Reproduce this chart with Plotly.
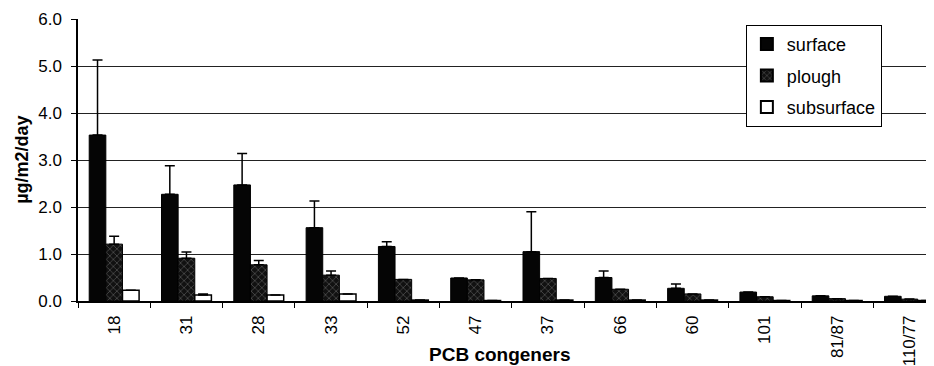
import plotly.graph_objects as go

categories = ["18", "31", "28", "33", "52", "47", "37", "66", "60", "101", "81/87", "110/77"]
surface = [3.53, 2.27, 2.47, 1.56, 1.16, 0.49, 1.05, 0.50, 0.27, 0.19, 0.11, 0.10]
surface_err = [1.60, 0.61, 0.67, 0.57, 0.10, 0.0, 0.85, 0.14, 0.09, 0.0, 0.0, 0.0]
plough = [1.21, 0.91, 0.77, 0.55, 0.46, 0.45, 0.48, 0.25, 0.15, 0.09, 0.05, 0.04]
plough_err = [0.17, 0.13, 0.09, 0.09, 0.0, 0.0, 0.0, 0.0, 0.0, 0.0, 0.0, 0.0]
subsurface = [0.23, 0.13, 0.13, 0.15, 0.02, 0.01, 0.02, 0.02, 0.02, 0.01, 0.01, 0.01]
subsurface_err = [0.0, 0.02, 0.0, 0.0, 0.0, 0.0, 0.0, 0.0, 0.0, 0.0, 0.0, 0.0]
y_ticks = [0, 1, 2, 3, 4, 5, 6]
y_ticklabels = ["0.0", "1.0", "2.0", "3.0", "4.0", "5.0", "6.0"]

FONT = "Liberation Sans, Arial, sans-serif"


def err(vals):
    return dict(type="data", symmetric=False, array=vals, arrayminus=[0] * len(vals),
                color="black", thickness=1.5, width=5)


fig = go.Figure()
fig.add_trace(go.Bar(
    name="surface", x=categories, y=surface, error_y=err(surface_err), legendgroup="a",
    marker=dict(color="#050505", line=dict(color="black", width=1)),
))
fig.add_trace(go.Bar(
    name="plough", x=categories, y=plough, error_y=err(plough_err), legendgroup="b",
    marker=dict(color="#111111", line=dict(color="black", width=1),
                pattern=dict(shape="x", fgcolor="#9a9a9a", bgcolor="#111111",
                             size=5, solidity=0.25)),
))
fig.add_trace(go.Bar(
    name="subsurface", x=categories, y=subsurface, error_y=err(subsurface_err), legendgroup="c",
    marker=dict(color="white", line=dict(color="black", width=1.5)),
))

fig.update_layout(
    width=934, height=366,
    margin=dict(l=70, r=0, t=11, b=73, autoexpand=False),
    paper_bgcolor="white", plot_bgcolor="white",
    barmode="group", bargap=0.31, bargroupgap=0,
    font=dict(family=FONT, size=17, color="black"),
    showlegend=True,
    legend=dict(
        x=0.773, y=0.979, xanchor="left", yanchor="top",
        bgcolor="white", bordercolor="black", borderwidth=1,
        font=dict(family=FONT, size=18, color="black"),
        itemsizing="constant", tracegroupgap=5, itemwidth=30,
    ),
    xaxis=dict(
        type="category", range=[-0.5, 11.45], automargin=False,
        showline=True, linecolor="black", linewidth=1.5,
        ticks="outside", ticklen=5, tickcolor="black", tickson="boundaries",
        tickangle=-90, tickfont=dict(family=FONT, size=17), ticklabelstandoff=6,
        showgrid=False, zeroline=False,
    ),
    yaxis=dict(
        range=[0, 6], tickvals=y_ticks, ticktext=y_ticklabels, automargin=False,
        showline=True, linecolor="black", linewidth=1.5,
        ticks="outside", ticklen=5, tickcolor="black",
        tickfont=dict(family=FONT, size=17), ticklabelstandoff=6,
        showgrid=True, gridcolor="#222222", gridwidth=1,
        zeroline=False,
    ),
    annotations=[
        dict(text="<b>PCB congeners</b>", xref="paper", yref="paper",
             x=0.488, y=-0.188, xanchor="center", yanchor="middle", showarrow=False,
             font=dict(family=FONT, size=19)),
        dict(text="<b>µg/m2/day</b>", xref="paper", yref="paper",
             x=-0.065, y=0.5, xanchor="center", yanchor="middle", showarrow=False,
             textangle=-90, font=dict(family=FONT, size=18)),
    ],
)

fig.write_html("out.html")
